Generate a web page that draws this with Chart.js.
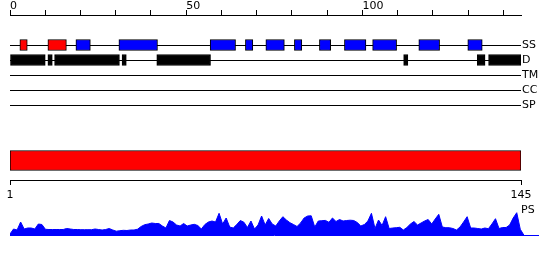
<!DOCTYPE html>
<html><head><meta charset="utf-8">
<script src="https://cdn.jsdelivr.net/npm/chart.js@4"></script>
<style>
html,body{margin:0;padding:0;background:#fff;}
#wrap{position:relative;width:550px;height:260px;overflow:hidden;}
canvas{position:absolute;left:0;top:0;}
#ps{position:absolute;left:521px;top:203px;font:11px "DejaVu Sans";color:#000;line-height:13px;}
</style></head><body>
<div id="wrap">
<canvas id="c1" width="550" height="260"></canvas>
<canvas id="c2" width="550" height="260"></canvas>
<canvas id="c3" width="550" height="260"></canvas>
<div id="ps">PS</div>
</div>
<script>
// ---------- data ----------
const rowLabels = ['SS', 'D', 'TM', 'CC', 'SP'];
const topTickValues = [0, 10, 20, 30, 40, 50, 60, 70, 80, 90, 100, 110, 120, 130, 140];
const topTickLabels = ['0', '', '', '', '', '50', '', '', '', '', '100', '', '', '', ''];
const ssHelix = [[2.8, 4.9], [10.75, 16.0]];
const ssStrand = [[18.7, 22.8], [30.9, 41.85], [56.8, 64.0], [66.8, 68.9], [72.6, 77.85], [80.7, 82.8],
                  [87.8, 91.0], [94.9, 101.0], [102.9, 109.7], [116.0, 121.9], [129.9, 134.0]];
const disorder = [[0, 10.0], [10.75, 12.0], [12.65, 31.05], [31.8, 33.0], [41.65, 56.9],
                  [111.7, 112.9], [132.6, 134.8], [135.8, 145.0]];
const seqRange = [1, 145];
const bottomTickValues = [1, 145];
const psLabel = 'PS';
const psValues = [
  1, 6, 5, 13, 6, 7, 7, 6, 11, 10.5,
  5.7, 5.5, 5.5, 5.5, 5.5, 5.5, 6.5, 6, 5.5, 5.5,
  5.3, 5.3, 5.3, 5.3, 6, 5.5, 5, 5.5, 6.5, 5,
  3.8, 4.3, 4.7, 4.5, 5, 5, 5.8, 8.5, 10.3, 11,
  12, 11.5, 11.5, 9, 7, 14.5, 13, 10, 9, 11.5,
  9, 10, 10.7, 9.5, 6, 10.5, 13, 14, 13, 21.7,
  11, 17, 8, 7, 10.5, 14.5, 12.8, 7.5, 14, 6,
  10, 19, 10, 16.5, 11, 9, 14, 18.3, 15, 12.3,
  10.5, 8.5, 12, 17, 19, 19.2, 8, 14, 14.3, 14.6,
  12.7, 17, 13.5, 15.5, 14, 14.5, 14.8, 14.5, 12.5, 9,
  10.5, 14, 21.7, 6.5, 15, 9.5, 18.3, 6.5, 7, 7.3,
  7.7, 5, 7.5, 11, 13.5, 10, 12, 14, 15.5, 11,
  16, 20.7, 8, 7.3, 7.3, 6.5, 5, 8, 13, 18.3,
  7, 7, 6.5, 6, 7, 6.3, 11, 16.3, 6.5, 7.5,
  7.5, 10, 17, 22.3, 5.7, 0
];

// ---------- style ----------
const FONT = {family: 'DejaVu Sans', size: 11};
const BLACK = '#000000', RED = '#ff0000', BLUE = '#0000ff';
Chart.defaults.animation = false;
Chart.defaults.font.family = 'DejaVu Sans';
Chart.defaults.color = BLACK;

const yCats = ['_top', '_gap', ...rowLabels];
const commonPlugins = {legend: {display: false}, tooltip: {enabled: false}, title: {display: false}};

// ---------- chart 1: feature rows ----------
function rangeData(ranges, row) { return ranges.map(r => ({x: r, y: row})); }
const barStyle = {type: 'bar', grouped: false, barThickness: 11, borderColor: BLACK, borderWidth: 1, borderSkipped: false};

new Chart(document.getElementById('c1'), {
  type: 'bar',
  data: {
    labels: yCats,
    datasets: [
      {...barStyle, data: rangeData(ssHelix, 'SS'), backgroundColor: RED},
      {...barStyle, data: rangeData(ssStrand, 'SS'), backgroundColor: BLUE},
      {...barStyle, data: rangeData(disorder, 'D'), backgroundColor: BLACK}
    ]
  },
  options: {
    indexAxis: 'y',
    responsive: false,
    layout: {padding: {left: 10, top: 0, right: 0, bottom: 155}},
    plugins: commonPlugins,
    scales: {
      x: {
        type: 'linear', position: 'top', min: 0, max: 145,
        afterBuildTicks: s => { s.ticks = topTickValues.map(v => ({value: v})); },
        afterFit: s => { s.height = 15; },
        grid: {drawOnChartArea: false, drawTicks: true, tickLength: 5, color: BLACK, lineWidth: 1},
        border: {display: true, color: BLACK, width: 1},
        ticks: {align: 'start', padding: 0, maxRotation: 0, autoSkip: false,
                font: {...FONT, lineHeight: 0.75}, color: BLACK,
                callback: (v, i) => topTickLabels[i]}
      },
      y: {
        type: 'category', position: 'right', offset: false, labels: yCats,
        afterFit: s => { s.width = 29; },
        grid: {offset: false, drawTicks: false, lineWidth: 1,
               color: c => (c.index < 2 ? 'rgba(0,0,0,0)' : BLACK)},
        border: {display: false},
        ticks: {padding: 1, font: FONT, color: BLACK, autoSkip: false,
                callback: (v, i) => (i < 2 ? '' : yCats[i])}
      }
    }
  }
});

// ---------- chart 2: sequence bar + ruler ----------
new Chart(document.getElementById('c2'), {
  type: 'bar',
  data: {
    labels: ['seq'],
    datasets: [{data: [seqRange], backgroundColor: RED, borderColor: BLACK, borderWidth: 1,
                borderSkipped: false, barThickness: 20}]
  },
  options: {
    indexAxis: 'y',
    responsive: false,
    layout: {padding: {left: 10, right: 29, top: 141, bottom: 60}},
    plugins: commonPlugins,
    scales: {
      x: {
        type: 'linear', position: 'bottom', min: seqRange[0], max: seqRange[1],
        afterBuildTicks: s => { s.ticks = bottomTickValues.map(v => ({value: v})); },
        afterFit: s => { s.height = 20; },
        grid: {drawOnChartArea: false, drawTicks: true, tickLength: 5, color: BLACK},
        border: {display: true, color: BLACK, width: 1},
        ticks: {padding: 4, maxRotation: 0, autoSkip: false, font: FONT, color: BLACK}
      },
      y: {type: 'category', display: false}
    }
  }
});

// ---------- chart 3: PS profile ----------
new Chart(document.getElementById('c3'), {
  type: 'line',
  data: {
    datasets: [{
      label: psLabel,
      data: psValues.map((v, i) => ({x: i + 1, y: v})),
      fill: 'origin', backgroundColor: BLUE, borderColor: BLUE, borderWidth: 1,
      pointRadius: 0, tension: 0
    }]
  },
  options: {
    responsive: false,
    layout: {padding: {left: 10, right: 12, top: 210, bottom: 24}},
    plugins: commonPlugins,
    scales: {
      x: {
        type: 'linear', min: 1, max: 150,
        afterFit: s => { s.height = 1; },
        grid: {display: false, drawTicks: false},
        border: {display: true, color: BLUE, width: 1},
        ticks: {display: false}
      },
      y: {type: 'linear', min: 0, max: 25, display: false}
    }
  }
});
</script>
</body></html>
